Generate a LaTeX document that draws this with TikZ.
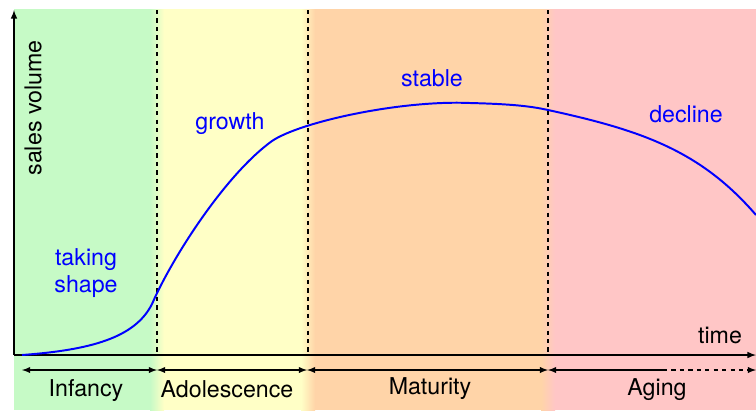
\documentclass[tikz,border=0pt]{standalone}
\usepackage{fontspec}
\setmainfont{TeX Gyre Heros}
\usepackage{tikz}
\usetikzlibrary{positioning}

\definecolor{infgreen}{RGB}{198,250,198}
\definecolor{adoyellow}{RGB}{255,255,198}
\definecolor{matorange}{RGB}{255,212,168}
\definecolor{agepink}{RGB}{255,198,198}

\tikzset{
  phase/.style={font=\fontsize{16.5}{19}\selectfont},
  stage/.style={text=blue,font=\fontsize{16.5}{19}\selectfont,align=center},
  border/.style={dashed,line width=1pt},
  span/.style={{latex}-{latex},line width=1pt},
}

\begin{document}
\begin{tikzpicture}[x=0.025cm,y=-0.025cm]
\useasboundingbox (0,0) rectangle (756,410);
% phase bands
\fill[infgreen] (14,9) rectangle (157,410);
\fill[adoyellow] (157,9) rectangle (308,410);
\fill[matorange] (308,9) rectangle (548,410);
\fill[agepink] (548,9) rectangle (756,410);
\shade[left color=infgreen,right color=adoyellow] (150,9) rectangle (164,410);
\shade[left color=adoyellow,right color=matorange] (301,9) rectangle (315,410);
\shade[left color=matorange,right color=agepink] (541,9) rectangle (555,410);

% axes
\coordinate (O) at (14,355);
\coordinate (Ytop) at (14,10);
\coordinate (Xend) at (756,355);
\draw[-latex,line width=1.1pt] (O)--(Ytop);
\draw[-latex,line width=1.1pt] (O)--(Xend);
\node[phase,rotate=90] (ylab) at (33,108) {sales volume};
\node[phase] (xlab) at (720,335) {time};

% phase borders
\foreach \x/\n in {157/B1,308/B2,548/B3}{
  \coordinate (\n top) at (\x,10);
  \coordinate (\n) at (\x,355);
  \draw[border] (\n top)--(\n);
}

% phase spans
\coordinate (S0) at (22,370);
\coordinate (S1) at (157,370);
\coordinate (S2) at (307,370);
\coordinate (S3) at (548,370);
\coordinate (S4) at (663,370);
\coordinate (S5) at (756,370);
\draw[span] (S0)--(S1);
\draw[span] (S1)--(S2);
\draw[span] (S2)--(S3);
\draw[{latex}-,line width=1pt] (S3)--(S4);
\draw[-latex,line width=1pt,dashed] (S4)--(S5);
\node[phase] (I) at (86,391) {Infancy};
\node[phase] (A) at (227,389) {Adolescence};
\node[phase] (M) at (430,389) {Maturity};
\node[phase] (G) at (657,390) {Aging};

% sales curve
\draw[blue,line width=1.4pt] (22,355) .. controls (90,350) and (135,338) .. (152,304)
  .. controls (172,258) and (225,175) .. (272,141)
  .. controls (300,122) and (400,100) .. (470,103)
  .. controls (510,104) and (530,106) .. (548,110)
  .. controls (640,130) and (700,150) .. (756,215);
\node[stage] (shape) at (86,273) {taking\\shape};
\node[stage] (grow) at (230,124) {growth};
\node[stage] (stab) at (432,78) {stable};
\node[stage] (decl) at (686,114) {decline};
\end{tikzpicture}
\end{document}
